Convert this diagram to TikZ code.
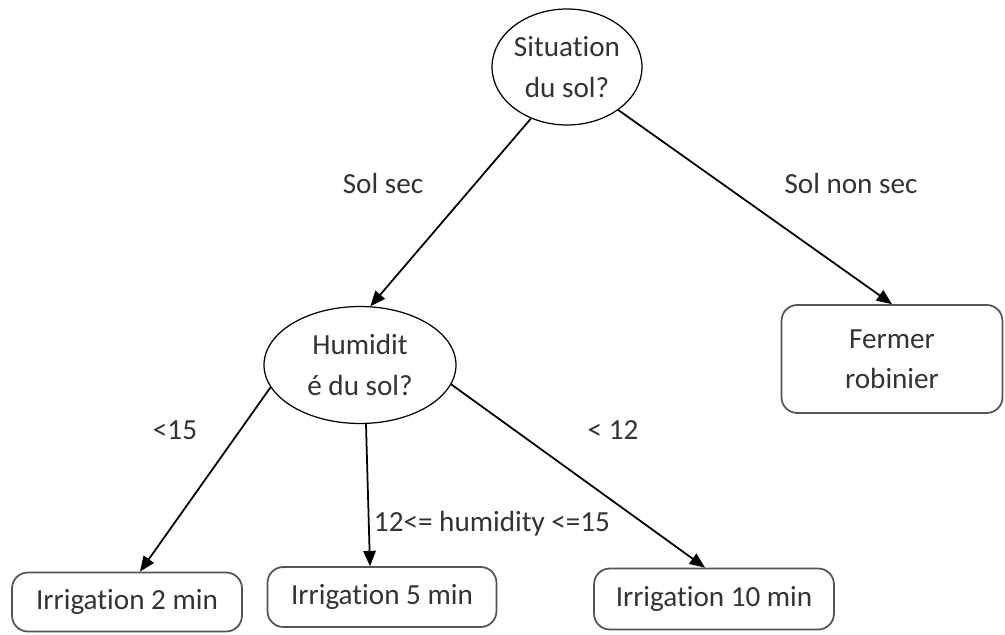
\documentclass[tikz,border=0pt]{standalone}
\usepackage{fontspec}
\setmainfont{Carlito}[Ligatures=NoCommon]
\usetikzlibrary{arrows,shapes,shapes.geometric,positioning}
\definecolor{txtgray}{HTML}{333333}
\definecolor{boxgray}{HTML}{555555}

\begin{document}
\begin{tikzpicture}[x=0.02cm,y=-0.02cm,
  font=\fontsize{16.6}{23}\selectfont,text=txtgray,
  question/.style={ellipse,draw=black,line width=0.7pt,align=center,inner sep=0pt},
  action/.style={rectangle,rounded corners=9pt,draw=boxgray,line width=1pt,align=center,inner sep=0pt},
  branch/.style={-triangle 45,line width=1pt,black},
  cond/.style={inner sep=1pt}]
\useasboundingbox (0,0) rectangle (1005,635);

\node[question,minimum width=2.78cm,minimum height=2.32cm] (sit) at (567,67) {Situation\\du sol?};
\node[question,minimum width=3.84cm,minimum height=2.34cm] (hum) at (360,365) {Humidit\\é du sol?};
\node[action,minimum width=4.42cm,minimum height=2.16cm] (ferm) at (892,359) {Fermer\\robinier};
\node[action,minimum width=4.6cm,minimum height=1.18cm] (irr2) at (127,602) {Irrigation 2 min};
\node[action,minimum width=4.58cm,minimum height=1.2cm] (irr5) at (382,597) {Irrigation 5 min};
\node[action,minimum width=4.8cm,minimum height=1.22cm] (irr10) at (714,599) {Irrigation 10 min};

\node[cond] (lsec) at (383,183) {Sol sec};
\node[cond] (lnonsec) at (851,183) {Sol non sec};
\node[cond] (lmoins) at (175,430) {<15};
\node[cond] (lentre) at (492,524) {12<= humidity <=15};
\node[cond] (lplus) at (613,430) {< 12};

\path
(sit.235)edge[branch](hum.80)
(sit.-40)edge[branch](ferm.north)
(hum.194)edge[branch]([xshift=0.26cm]irr2.north)
([xshift=0.12cm]hum.south)edge[branch]([xshift=-0.24cm]irr5.north)
(hum.-12)edge[branch]([xshift=-0.18cm]irr10.north)
;

\end{tikzpicture}
\end{document}
